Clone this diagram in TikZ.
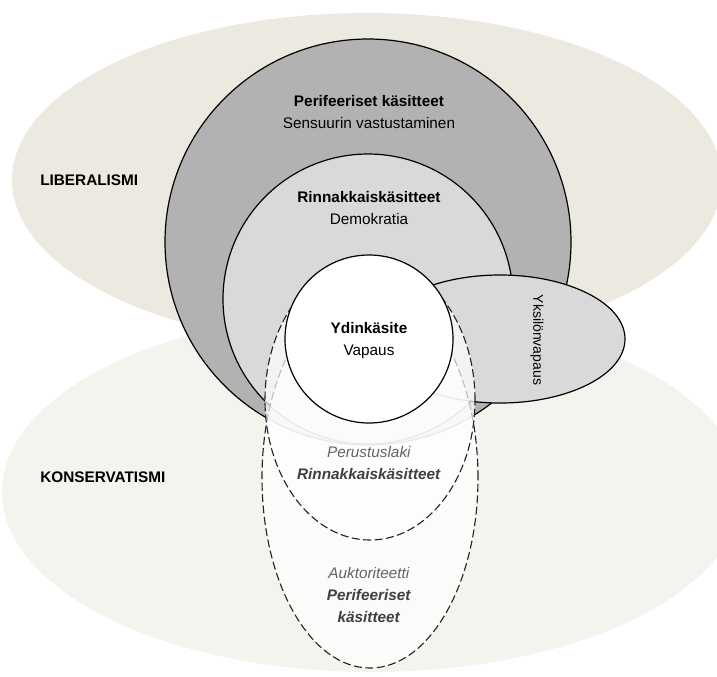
\documentclass[tikz,border=0pt]{standalone}
\usepackage{fontspec}
\setmainfont{Liberation Sans}
\usetikzlibrary{shapes.geometric}

\definecolor{libbeige}{RGB}{236,234,224}
\definecolor{konsbeige}{RGB}{244,243,238}
\definecolor{darkgrey}{RGB}{178,178,178}
\definecolor{lightgrey}{RGB}{217,217,217}
\definecolor{textgrey}{RGB}{100,100,100}

\tikzset{
  area/.style={ellipse, inner sep=0pt, outer sep=0pt},
  ring/.style={area, draw=black, line width=0.9pt},
  konsring/.style={area, draw=black!85, line width=0.85pt,
    dash pattern=on 6pt off 2.6pt, fill=white, fill opacity=0.7},
  txt/.style={align=center, inner sep=0pt, font=\fontsize{11.5}{16.5}\selectfont}
}

\begin{document}
\begin{tikzpicture}[x=0.75pt, y=-0.75pt]
  \useasboundingbox (0,0) rectangle (717,676);

  % ideologiat
  \begin{scope}[every node/.style={area}]
    \node[fill=konsbeige, minimum width=555pt, minimum height=270pt] (kons) at (372,492) {};
    \node[fill=libbeige, minimum width=532.5pt, minimum height=250.5pt] (lib) at (367,180) {};
  \end{scope}

  % liberalismin kasitteet
  \begin{scope}[every node/.style={ring}]
    \node[fill=darkgrey, minimum size=304.5pt] (perif) at (368,242) {};
    \node[fill=lightgrey, minimum size=217.5pt] (rinn) at (368,299) {};
    \node[fill=lightgrey, minimum width=187.5pt, minimum height=96pt] (yksilo) at (500,339) {};
  \end{scope}

  % konservatismin kasitteet
  \node[konsring, minimum width=162pt, minimum height=285pt] (kperif) at (370,478) {};
  \node[konsring, minimum width=157.5pt, minimum height=210pt] (krinn) at (370,400) {};

  \node[ring, fill=white, minimum size=126pt] (ydin) at (369,339) {};

  % tekstit
  \node[txt, anchor=west] (liblbl) at (40,180) {\textbf{LIBERALISMI}};
  \node[txt, anchor=west] (konslbl) at (40,477) {\textbf{KONSERVATISMI}};
  \node[txt] (perifl) at (369,112) {\textbf{Perifeeriset käsitteet}\\Sensuurin vastustaminen};
  \node[txt] (rinnl) at (369,208) {\textbf{Rinnakkaiskäsitteet}\\Demokratia};
  \node[txt] (ydinl) at (369,340.5) {\textbf{Ydinkäsite}\\Vapaus};
  \node[txt, rotate=-90, font=\fontsize{10.5}{12}\selectfont] (yksilol) at (537,340) {Yksilönvapaus};
  \node[txt, text=textgrey] (krinnl) at (369,463)
    {\textit{Perustuslaki}\\{\color{black!75}\textbf{\textit{Rinnakkaiskäsitteet}}}};
  \node[txt, text=textgrey] (kperifl) at (369,595)
    {\textit{Auktoriteetti}\\{\color{black!75}\textbf{\textit{Perifeeriset}}}\\{\color{black!75}\textbf{\textit{käsitteet}}}};
\end{tikzpicture}
\end{document}
